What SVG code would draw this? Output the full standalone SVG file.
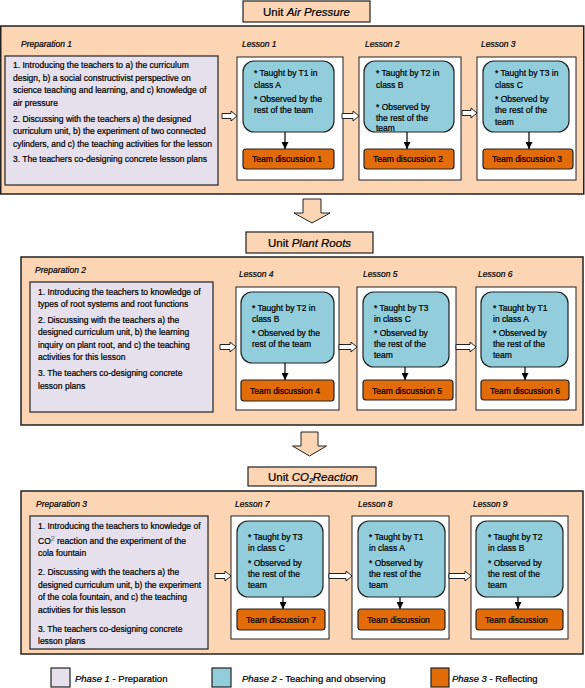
<svg xmlns="http://www.w3.org/2000/svg" width="585" height="688" viewBox="0 0 585 688">
<defs>
<style>
text{font-family:"Liberation Sans",Arial,sans-serif;font-size:8.5px;fill:#000;stroke:#000;stroke-width:0.22}
.it{font-style:italic}
.ttl{font-size:11.5px}
.lg{font-size:9.5px}
.panel{fill:#fcd5b4;stroke:#222;stroke-width:1.5}
.tbox{fill:#fcd5b4;stroke:#222;stroke-width:1.2}
.prep{fill:#e6e0ec;stroke:#222;stroke-width:1.2}
.les{fill:#fff;stroke:#222;stroke-width:1}
.blue{fill:#92cddc;stroke:#222;stroke-width:1.2}
.orng{fill:#e36c0a;stroke:#222;stroke-width:1.2}
.harr{fill:#fff;stroke:#222;stroke-width:1}
.varr{fill:#fcd5b4;stroke:#222;stroke-width:1}
.ln{stroke:#000;stroke-width:1.2;fill:none;marker-end:url(#ah)}
</style>
<marker id="ah" viewBox="0 0 10 10" refX="10" refY="5" markerWidth="7" markerHeight="7" markerUnits="userSpaceOnUse" orient="auto">
<path d="M0,0 L10,5 L0,10 Z" fill="#000"/>
</marker>
</defs>
<rect width="585" height="688" fill="#fff"/>

<!-- Unit 1 -->
<g id="title1"><rect class="tbox" x="243" y="1" width="127" height="21"/><text class="ttl" x="263" y="15.5">Unit <tspan class="it">Air Pressure</tspan></text></g>
<g id="panel1"><rect class="panel" x="0.75" y="26" width="583" height="168"/>
<text class="it" x="21" y="47">Preparation 1</text>
<text class="it" x="242" y="47">Lesson 1</text>
<text class="it" x="365" y="47">Lesson 2</text>
<text class="it" x="481" y="47">Lesson 3</text>
</g>
<g id="prep1"><rect class="prep" x="5" y="56" width="213" height="129"/>
<text x="13" y="68.3">1. Introducing the teachers to a) the curriculum</text>
<text x="13" y="80.7">design, b) a social constructivist perspective on</text>
<text x="13" y="93.3">science teaching and learning, and c) knowledge of</text>
<text x="13" y="105.7">air pressure</text>
<text x="13" y="121.7">2. Discussing with the teachers a) the designed</text>
<text x="13" y="134">curriculum unit, b) the experiment of two connected</text>
<text x="13" y="146.7">cylinders, and c) the teaching activities for the lesson</text>
<text x="13" y="162.3">3. The teachers co-designing concrete lesson plans</text>
</g>
<g id="lesson1"><rect class="les" x="237" y="57" width="106" height="123"/>
<rect class="blue" x="243" y="61" width="91" height="71" rx="11"/>
<text x="254" y="76">* Taught by T1 in</text><text x="254" y="88">class A</text>
<text x="254" y="102">* Observed by the</text><text x="254" y="113">rest of the team</text>
<rect class="orng" x="243" y="149" width="91" height="20" rx="3"/>
<text x="252" y="162">Team discussion 1</text></g>
<g id="lesson2"><rect class="les" x="359" y="57" width="102" height="123"/>
<rect class="blue" x="364" y="61" width="90" height="71" rx="11"/>
<text x="376" y="76">* Taught by T2 in</text><text x="376" y="88">class B</text>
<text x="376" y="110">* Observed by</text><text x="376" y="120.5">the rest of the</text><text x="376" y="131">team</text>
<rect class="orng" x="364" y="149" width="90" height="20" rx="3"/>
<text x="373" y="162">Team discussion 2</text></g>
<g id="lesson3"><rect class="les" x="477" y="57" width="99" height="123"/>
<rect class="blue" x="483" y="61" width="86" height="71" rx="11"/>
<text x="495" y="76">* Taught by T3 in</text><text x="495" y="88">class C</text>
<text x="495" y="102">* Observed by</text><text x="495" y="113">the rest of the</text><text x="495" y="124.5">team</text>
<rect class="orng" x="483" y="149" width="90" height="20" rx="3"/>
<text x="492" y="162">Team discussion 3</text></g>

<!-- Unit 2 -->
<g id="title2"><rect class="tbox" x="246" y="232" width="127" height="21"/><text class="ttl" x="268" y="247">Unit <tspan class="it">Plant Roots</tspan></text></g>
<g id="panel2"><rect class="panel" x="21" y="257" width="562" height="168"/>
<text class="it" x="35" y="273">Preparation 2</text>
<text class="it" x="239" y="277">Lesson 4</text>
<text class="it" x="363" y="277">Lesson 5</text>
<text class="it" x="478" y="277">Lesson 6</text>
</g>
<g id="prep2"><rect class="prep" x="30" y="282" width="183" height="130"/>
<text x="38" y="294.7">1. Introducing the teachers to knowledge of</text>
<text x="38" y="307">types of root systems and root functions</text>
<text x="38" y="323">2. Discussing with the teachers a) the</text>
<text x="38" y="335.3">designed curriculum unit, b) the learning</text>
<text x="38" y="347.7">inquiry on plant root, and c) the teaching</text>
<text x="38" y="360.3">activities for this lesson</text>
<text x="38" y="376.3">3. The teachers co-designing concrete</text>
<text x="38" y="388.7">lesson plans</text>
</g>
<g id="lesson4"><rect class="les" x="236" y="287" width="103" height="123"/>
<rect class="blue" x="241" y="292" width="93" height="71" rx="11"/>
<text x="252" y="311">* Taught by T2 in</text><text x="252" y="322">class B</text>
<text x="252" y="336">* Observed by the</text><text x="252" y="347">rest of the team</text>
<rect class="orng" x="241" y="380" width="93" height="21" rx="3"/>
<text x="250" y="394">Team discussion 4</text></g>
<g id="lesson5"><rect class="les" x="357" y="287" width="99" height="123"/>
<rect class="blue" x="363" y="292" width="86" height="75" rx="11"/>
<text x="374" y="311">* Taught by T3</text><text x="374" y="322">in class C</text>
<text x="374" y="336">* Observed by</text><text x="374" y="347">the rest of the</text><text x="374" y="358">team</text>
<rect class="orng" x="363" y="380" width="90" height="20" rx="3"/>
<text x="372" y="394">Team discussion 5</text></g>
<g id="lesson6"><rect class="les" x="476" y="287" width="100" height="123"/>
<rect class="blue" x="481" y="292" width="87" height="75" rx="11"/>
<text x="493" y="311">* Taught by T1</text><text x="493" y="322">in class A</text>
<text x="493" y="336">* Observed by</text><text x="493" y="347">the rest of the</text><text x="493" y="358">team</text>
<rect class="orng" x="481" y="380" width="88" height="20" rx="3"/>
<text x="490" y="394">Team discussion 6</text></g>

<!-- Unit 3 -->
<g id="title3"><rect class="tbox" x="248" y="467" width="128" height="19"/><text class="ttl" x="268" y="481">Unit <tspan class="it">CO</tspan><tspan class="it" font-size="7" dy="2">2</tspan><tspan class="it" dy="-2">Reaction</tspan></text></g>
<g id="panel3"><rect class="panel" x="21" y="491" width="562" height="163"/>
<text class="it" x="36" y="507">Preparation 3</text>
<text class="it" x="235" y="507">Lesson 7</text>
<text class="it" x="358" y="507">Lesson 8</text>
<text class="it" x="473" y="507">Lesson 9</text>
</g>
<g id="prep3"><rect class="prep" x="30" y="516" width="178" height="133"/>
<text x="38" y="529">1. Introducing the teachers to knowledge of</text>
<text x="38" y="543.7">CO<tspan font-size="7" dy="-3" fill="#888" stroke="#888">2</tspan><tspan dy="3"> reaction and the experiment of the</tspan></text>
<text x="38" y="556.3">cola fountain</text>
<text x="38" y="575">2. Discussing with the teachers a) the</text>
<text x="38" y="587.7">designed curriculum unit, b) the experiment</text>
<text x="38" y="600">of the cola fountain, and c) the teaching</text>
<text x="38" y="612.7">activities for this lesson</text>
<text x="38" y="631.7">3. The teachers co-designing concrete</text>
<text x="38" y="644">lesson plans</text>
</g>
<g id="lesson7"><rect class="les" x="231" y="516" width="98" height="123"/>
<rect class="blue" x="237" y="521" width="86" height="76" rx="11"/>
<text x="248" y="540">* Taught by T3</text><text x="248" y="551">in class C</text>
<text x="248" y="566">* Observed by</text><text x="248" y="576.5">the rest of the</text><text x="248" y="588">team</text>
<rect class="orng" x="237" y="609" width="88" height="21" rx="3"/>
<text x="246" y="623">Team discussion 7</text></g>
<g id="lesson8"><rect class="les" x="352" y="516" width="97" height="123"/>
<rect class="blue" x="358" y="521" width="87" height="76" rx="11"/>
<text x="369" y="540">* Taught by T1</text><text x="369" y="551">in class A</text>
<text x="369" y="566">* Observed by</text><text x="369" y="576.5">the rest of the</text><text x="369" y="588">team</text>
<rect class="orng" x="358" y="609" width="87" height="21" rx="3"/>
<text x="367" y="623">Team discussion</text></g>
<g id="lesson9"><rect class="les" x="471" y="516" width="97" height="123"/>
<rect class="blue" x="476" y="521" width="87" height="76" rx="11"/>
<text x="488" y="540">* Taught by T2</text><text x="488" y="551">in class B</text>
<text x="488" y="566">* Observed by</text><text x="488" y="576.5">the rest of the</text><text x="488" y="588">team</text>
<rect class="orng" x="476" y="609" width="87" height="21" rx="3"/>
<text x="485" y="623">Team discussion</text></g>

<g id="connectors">
<path class="harr" d="M222,113.5 H231 V111 L237,116 L231,121 V118.5 H222 Z"/>
<path class="harr" d="M342,113.5 H353 V111 L359,116 L353,121 V118.5 H342 Z"/>
<path class="harr" d="M462,110.5 H471 V108 L477,113 L471,118 V115.5 H462 Z"/>
<path class="harr" d="M220,344.5 H230 V342 L236,347 L230,352 V349.5 H220 Z"/>
<path class="harr" d="M339,344.5 H351 V342 L357,347 L351,352 V349.5 H339 Z"/>
<path class="harr" d="M456,344.5 H470 V342 L476,347 L470,352 V349.5 H456 Z"/>
<path class="harr" d="M215,573.5 H225 V571 L231,576 L225,581 V578.5 H215 Z"/>
<path class="harr" d="M329,573.5 H346 V571 L352,576 L346,581 V578.5 H329 Z"/>
<path class="harr" d="M449,573.5 H465 V571 L471,576 L465,581 V578.5 H449 Z"/>
<path class="varr" d="M303,199 H321 V213 H330 L312,223 L294,213 H303 Z"/>
<path class="varr" d="M301,432 H318 V446 H326.5 L309.5,456 L292.5,446 H301 Z"/>
<line class="ln" x1="285" y1="132" x2="285" y2="149"/>
<line class="ln" x1="407" y1="132" x2="407" y2="149"/>
<line class="ln" x1="529" y1="132" x2="529" y2="149"/>
<line class="ln" x1="285" y1="363" x2="285" y2="380"/>
<line class="ln" x1="405" y1="367" x2="405" y2="380"/>
<line class="ln" x1="525" y1="367" x2="525" y2="380"/>
<line class="ln" x1="283" y1="597" x2="283" y2="609"/>
<line class="ln" x1="400" y1="597" x2="400" y2="609"/>
<line class="ln" x1="518" y1="597" x2="518" y2="609"/>
</g>

<g id="legend">
<rect class="prep" x="51" y="668" width="19" height="19"/>
<text class="lg" x="75" y="681.5"><tspan class="it">Phase 1</tspan> - Preparation</text>
<rect class="blue" x="212" y="668" width="19" height="19"/>
<text class="lg" x="242" y="681.5"><tspan class="it">Phase 2</tspan> - Teaching and observing</text>
<rect class="orng" x="431" y="668" width="18" height="19"/>
<text class="lg" x="452" y="681.5"><tspan class="it">Phase 3</tspan> - Reflecting</text>
</g>
</svg>
